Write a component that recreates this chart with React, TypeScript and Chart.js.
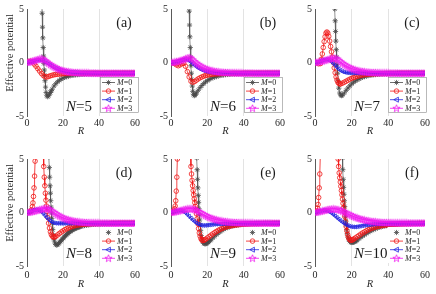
import React, { useEffect, useRef } from "react";
import { Chart, registerables } from "chart.js";
Chart.register(...registerables);

const X_MIN = 0;
const X_MAX = 60;
const X_STEP = 20;
const Y_MIN = -5;
const Y_MAX = 5;
const Y_STEP = 5;
const GRID_R = [20, 40];
const M_VALUES = ["0", "1", "2", "3"];
const PANEL_TAGS = ["(a)", "(b)", "(c)", "(d)", "(e)", "(f)"];
const PANEL_N = ["5", "6", "7", "8", "9", "10"];
const Y_TITLE = "Effective potential";
const X_TITLE = "R";

const G = [0,1,2,3,4,5,6,7,8,9,10,11,12,13,14,15,16,17,18,19,20,21,22,23,24,25,26,27,28,29,30,31,32,33,34,35,36,37,38,39,40,41,42,43,44,45,46,47,48,49,50,51,52,53,54,55,56,57,58,59,60];

// ---------- (a) N=5 ----------
const A_M0_R = [8,8.2,8.4,8.6,8.8,9,9.2,9.4,9.6,9.8,10,10.3,10.6,11,11.5,12,12.5,13,13.5,14,15,16,17,18,19,20,21,22,23,24,25,26,27,28,29,30,31,32,33,34,35,36,37,38,39,40,41,42,43,44,45,46,47,48,49,50,51,52,53,54,55,56,57,58,59,60];
const A_M0_V = [9,6.5,4.6,3.3,2.3,1.4,0.6,-0.1,-0.7,-1.2,-1.7,-2.3,-2.8,-3.1,-3.2,-3.1,-2.95,-2.8,-2.65,-2.5,-2.2,-1.98,-1.8,-1.66,-1.55,-1.46,-1.39,-1.33,-1.28,-1.24,-1.21,-1.18,-1.16,-1.14,-1.12,-1.11,-1.1,-1.09,-1.08,-1.07,-1.07,-1.06,-1.06,-1.05,-1.05,-1.04,-1.04,-1.04,-1.03,-1.03,-1.03,-1.03,-1.02,-1.02,-1.02,-1.02,-1.02,-1.02,-1.01,-1.01,-1.01,-1.01,-1.01,-1.01,-1.01,-1.01];
const A_M1_V = [0,0.1,0.12,0.05,-0.15,-0.35,-0.58,-0.8,-1.02,-1.2,-1.33,-1.36,-1.3,-1.24,-1.19,-1.15,-1.12,-1.1,-1.08,-1.06,-1.05,-1.04,-1.03,-1.03,-1.02,-1.02,-1.01,-1.01,-1.01,-1.01,-1.01,-1,-1,-1,-1,-1,-1,-1,-1,-1,-1,-1,-1,-1,-1,-1,-1,-1,-1,-1,-1,-1,-1,-1,-1,-1,-1,-1,-1,-1,-1];
const A_M2_V = [0,0.02,0.06,0.1,0.15,0.19,0.23,0.25,0.24,0.18,0.09,-0.02,-0.13,-0.24,-0.35,-0.45,-0.54,-0.61,-0.68,-0.73,-0.78,-0.82,-0.85,-0.88,-0.9,-0.92,-0.93,-0.94,-0.95,-0.96,-0.97,-0.97,-0.98,-0.98,-0.98,-0.99,-0.99,-0.99,-0.99,-1,-1,-1,-1,-1,-1,-1,-1,-1,-1,-1,-1,-1,-1,-1,-1,-1,-1,-1,-1,-1,-1];
const A_M3_V = [0,0.03,0.08,0.13,0.18,0.23,0.28,0.33,0.35,0.3,0.18,0.05,-0.08,-0.2,-0.31,-0.41,-0.5,-0.58,-0.65,-0.71,-0.76,-0.8,-0.84,-0.87,-0.89,-0.91,-0.93,-0.94,-0.95,-0.96,-0.97,-0.97,-0.98,-0.98,-0.98,-0.99,-0.99,-0.99,-0.99,-1,-1,-1,-1,-1,-1,-1,-1,-1,-1,-1,-1,-1,-1,-1,-1,-1,-1,-1,-1,-1,-1];

// ---------- (b) N=6 ----------
const B_M0_R = [9.6,9.8,10,10.2,10.4,10.6,10.8,11,11.2,11.4,11.7,12,12.4,12.8,13.2,13.6,14,15,16,17,18,19,20,21,22,23,24,25,26,27,28,29,30,31,32,33,34,35,36,37,38,39,40,41,42,43,44,45,46,47,48,49,50,51,52,53,54,55,56,57,58,59,60];
const B_M0_V = [8,6.2,4.8,3.5,2.4,1.4,0.5,-0.3,-1,-1.6,-2.2,-2.7,-3,-3.1,-3.05,-2.95,-2.85,-2.6,-2.35,-2.15,-1.97,-1.82,-1.7,-1.59,-1.5,-1.42,-1.36,-1.31,-1.26,-1.22,-1.19,-1.16,-1.14,-1.12,-1.1,-1.09,-1.08,-1.07,-1.06,-1.06,-1.05,-1.05,-1.04,-1.04,-1.04,-1.03,-1.03,-1.03,-1.03,-1.02,-1.02,-1.02,-1.02,-1.02,-1.02,-1.01,-1.01,-1.01,-1.01,-1.01,-1.01,-1.01,-1.01];
const B_M1_V = [0,-0.02,-0.1,-0.22,-0.3,-0.22,-0.1,-0.08,-0.35,-0.85,-1.35,-1.75,-1.85,-1.78,-1.65,-1.53,-1.43,-1.35,-1.28,-1.22,-1.18,-1.14,-1.11,-1.09,-1.07,-1.06,-1.05,-1.04,-1.03,-1.03,-1.02,-1.02,-1.02,-1.02,-1.01,-1.01,-1.01,-1.01,-1.01,-1.01,-1,-1,-1,-1,-1,-1,-1,-1,-1,-1,-1,-1,-1,-1,-1,-1,-1,-1,-1,-1,-1];
const B_M2_V = [0,0.02,0.05,0.09,0.14,0.19,0.24,0.28,0.3,0.27,0.18,0.05,-0.1,-0.25,-0.38,-0.5,-0.6,-0.68,-0.75,-0.8,-0.84,-0.87,-0.9,-0.92,-0.94,-0.95,-0.96,-0.97,-0.97,-0.98,-0.98,-0.98,-0.99,-0.99,-0.99,-0.99,-1,-1,-1,-1,-1,-1,-1,-1,-1,-1,-1,-1,-1,-1,-1,-1,-1,-1,-1,-1,-1,-1,-1,-1,-1];
const B_M3_V = [0,0.02,0.05,0.08,0.12,0.17,0.22,0.28,0.35,0.42,0.45,0.4,0.25,0.08,-0.07,-0.2,-0.32,-0.42,-0.51,-0.58,-0.64,-0.7,-0.74,-0.78,-0.82,-0.85,-0.87,-0.89,-0.91,-0.92,-0.93,-0.94,-0.95,-0.96,-0.96,-0.97,-0.97,-0.98,-0.98,-0.98,-0.99,-0.99,-0.99,-0.99,-0.99,-0.99,-1,-1,-1,-1,-1,-1,-1,-1,-1,-1,-1,-1,-1,-1,-1];

// ---------- (c) N=7 ----------
const C_M0_R = [10.4,10.6,10.8,11,11.2,11.4,11.6,11.8,12,12.3,12.6,13,13.5,14,14.5,15,16,17,18,19,20,21,22,23,24,25,26,27,28,29,30,31,32,33,34,35,36,37,38,39,40,41,42,43,44,45,46,47,48,49,50,51,52,53,54,55,56,57,58,59,60];
const C_M0_V = [8,6.3,5,3.9,2.9,2,1.2,0.5,-0.2,-1,-1.7,-2.4,-2.85,-3.05,-3.1,-3.05,-2.85,-2.6,-2.38,-2.18,-2,-1.85,-1.73,-1.62,-1.53,-1.45,-1.38,-1.32,-1.27,-1.23,-1.2,-1.17,-1.15,-1.13,-1.11,-1.1,-1.08,-1.07,-1.06,-1.06,-1.05,-1.05,-1.04,-1.04,-1.04,-1.03,-1.03,-1.03,-1.03,-1.02,-1.02,-1.02,-1.02,-1.02,-1.02,-1.01,-1.01,-1.01,-1.01,-1.01,-1.01];
const C_M1_R = [0,1,2,3,3.5,4,4.5,5,5.5,6,6.5,7,7.5,8,8.5,9,9.5,10,10.5,11,11.5,12,12.5,13,13.5,14,15,16,17,18,19,20,21,22,23,24,25,26,27,28,29,30,31,32,33,34,35,36,37,38,39,40,41,42,43,44,45,46,47,48,49,50,51,52,53,54,55,56,57,58,59,60];
const C_M1_V = [0,-0.03,-0.12,-0.1,0.3,0.8,1.4,1.95,2.4,2.75,2.85,2.75,2.45,2,1.5,1,0.5,0,-0.5,-0.95,-1.35,-1.65,-1.85,-1.95,-2,-2,-1.93,-1.84,-1.75,-1.65,-1.56,-1.48,-1.41,-1.35,-1.29,-1.24,-1.2,-1.17,-1.14,-1.12,-1.1,-1.08,-1.07,-1.06,-1.05,-1.04,-1.04,-1.03,-1.03,-1.02,-1.02,-1.02,-1.01,-1.01,-1.01,-1.01,-1.01,-1,-1,-1,-1,-1,-1,-1,-1,-1,-1,-1,-1,-1,-1,-1];
const C_M2_V = [0,0.03,0.08,0.14,0.2,0.25,0.28,0.27,0.2,0.08,-0.08,-0.26,-0.44,-0.6,-0.74,-0.84,-0.9,-0.94,-0.96,-0.97,-0.98,-0.98,-0.98,-0.99,-0.99,-0.99,-0.99,-0.99,-1,-1,-1,-1,-1,-1,-1,-1,-1,-1,-1,-1,-1,-1,-1,-1,-1,-1,-1,-1,-1,-1,-1,-1,-1,-1,-1,-1,-1,-1,-1,-1,-1];
const C_M3_V = [0,0.02,0.05,0.09,0.13,0.18,0.23,0.28,0.33,0.37,0.4,0.4,0.33,0.2,0.06,-0.08,-0.2,-0.31,-0.41,-0.5,-0.57,-0.63,-0.69,-0.74,-0.78,-0.81,-0.84,-0.87,-0.89,-0.9,-0.92,-0.93,-0.94,-0.95,-0.96,-0.96,-0.97,-0.97,-0.98,-0.98,-0.98,-0.99,-0.99,-0.99,-0.99,-0.99,-1,-1,-1,-1,-1,-1,-1,-1,-1,-1,-1,-1,-1,-1,-1];

// ---------- (d) N=8 ----------
const D_M0_R = [11.8,12,12.2,12.4,12.6,12.8,13,13.2,13.4,13.6,13.8,14,14.3,14.6,15,15.5,16,16.5,17,17.5,18,18.5,19,19.5,20,20.5,21,21.5,22,22.5,23,23.5,24,24.5,25,25.5,26,26.5,27,27.5,28,28.5,29,29.5,30,31,32,33,34,35,36,37,38,39,40,41,42,43,44,45,46,47,48,49,50,51,52,53,54,55,56,57,58,59,60];
const D_M0_V = [8,6.5,5.2,4.2,3.3,2.5,1.8,1.1,0.5,-0.05,-0.55,-1,-1.6,-2.1,-2.55,-2.85,-3,-3.05,-3,-2.92,-2.82,-2.72,-2.62,-2.52,-2.42,-2.32,-2.23,-2.14,-2.06,-1.98,-1.91,-1.84,-1.78,-1.72,-1.66,-1.61,-1.56,-1.52,-1.48,-1.44,-1.41,-1.38,-1.35,-1.32,-1.3,-1.26,-1.22,-1.19,-1.16,-1.14,-1.12,-1.11,-1.1,-1.09,-1.08,-1.07,-1.06,-1.06,-1.05,-1.05,-1.04,-1.04,-1.03,-1.03,-1.03,-1.02,-1.02,-1.02,-1.02,-1.02,-1.01,-1.01,-1.01,-1.01,-1.01];
const D_M1_R = [0,1,2,2.5,3,3.3,3.6,3.9,4.2,4.5,4.8,6.5,8.5,9,9.3,9.6,9.9,10.2,10.5,10.8,11.1,11.5,12,12.5,13,13.5,14,14.5,15,15.5,16,17,18,19,20,21,22,23,24,25,26,27,28,29,30,31,32,33,34,35,36,37,38,39,40,41,42,43,44,45,46,47,48,49,50,51,52,53,54,55,56,57,58,59,60];
const D_M1_V = [0,0.02,0.1,0.25,0.55,0.9,1.5,2.3,3.4,4.8,6.5,20,8,5.5,4.3,3.3,2.5,1.8,1.15,0.6,0.1,-0.45,-1,-1.45,-1.8,-2.05,-2.2,-2.28,-2.3,-2.28,-2.23,-2.1,-1.96,-1.83,-1.72,-1.61,-1.52,-1.44,-1.37,-1.31,-1.26,-1.22,-1.18,-1.15,-1.13,-1.11,-1.09,-1.08,-1.07,-1.06,-1.05,-1.04,-1.04,-1.03,-1.03,-1.02,-1.02,-1.02,-1.02,-1.02,-1.01,-1.01,-1.01,-1.01,-1.01,-1,-1,-1,-1,-1,-1,-1,-1,-1,-1];
const D_M2_V = [0,0.04,0.1,0.17,0.23,0.27,0.26,0.2,0.08,-0.08,-0.27,-0.46,-0.64,-0.79,-0.9,-0.97,-1,-1.01,-1.01,-1.01,-1.01,-1.01,-1.01,-1.01,-1.01,-1,-1,-1,-1,-1,-1,-1,-1,-1,-1,-1,-1,-1,-1,-1,-1,-1,-1,-1,-1,-1,-1,-1,-1,-1,-1,-1,-1,-1,-1,-1,-1,-1,-1,-1,-1];
const D_M3_V = [0,0.02,0.05,0.09,0.13,0.17,0.21,0.26,0.3,0.34,0.37,0.37,0.33,0.24,0.12,0,-0.12,-0.23,-0.33,-0.42,-0.5,-0.57,-0.63,-0.68,-0.73,-0.77,-0.8,-0.83,-0.86,-0.88,-0.9,-0.91,-0.93,-0.94,-0.95,-0.96,-0.96,-0.97,-0.97,-0.98,-0.98,-0.99,-0.99,-0.99,-0.99,-0.99,-1,-1,-1,-1,-1,-1,-1,-1,-1,-1,-1,-1,-1,-1,-1];

// ---------- (e) N=9 ----------
const E_M0_R = [13.8,14,14.2,14.4,14.6,14.8,15,15.2,15.4,15.6,15.8,16,16.3,16.6,17,17.5,18,18.5,19,19.5,20,20.5,21,21.5,22,23,24,25,26,27,28,29,30,31,32,33,34,35,36,37,38,39,40,41,42,43,44,45,46,47,48,49,50,51,52,53,54,55,56,57,58,59,60];
const E_M0_V = [8,6.4,5.1,4,3.1,2.3,1.6,0.95,0.35,-0.2,-0.7,-1.15,-1.7,-2.15,-2.5,-2.75,-2.88,-2.92,-2.92,-2.9,-2.85,-2.78,-2.7,-2.62,-2.54,-2.38,-2.22,-2.07,-1.93,-1.8,-1.68,-1.57,-1.48,-1.41,-1.35,-1.3,-1.26,-1.22,-1.19,-1.16,-1.14,-1.12,-1.1,-1.09,-1.08,-1.07,-1.06,-1.05,-1.05,-1.04,-1.04,-1.03,-1.03,-1.02,-1.02,-1.02,-1.02,-1.02,-1.01,-1.01,-1.01,-1.01,-1.01];
const E_M1_R = [0,0.5,1,1.5,2,2.3,2.6,2.9,3.2,3.5,3.8,7,10.3,10.7,11,11.3,11.6,11.9,12.2,12.5,12.8,13.1,13.4,13.7,14,14.4,14.8,15.2,15.6,16,16.5,17,17.5,18,18.5,19,20,21,22,23,24,25,26,27,28,29,30,31,32,33,34,35,36,37,38,39,40,41,42,43,44,45,46,47,48,49,50,51,52,53,54,55,56,57,58,59,60];
const E_M1_V = [0,0.02,0.06,0.15,0.35,0.6,1.1,2,3.3,5,7,30,8,5.5,4.3,3.6,3,2.5,2.05,1.65,1.28,0.92,0.57,0.22,-0.12,-0.6,-1.05,-1.5,-1.9,-2.2,-2.45,-2.58,-2.62,-2.6,-2.55,-2.5,-2.38,-2.25,-2.12,-2,-1.88,-1.77,-1.67,-1.58,-1.5,-1.43,-1.37,-1.32,-1.28,-1.24,-1.21,-1.18,-1.16,-1.14,-1.12,-1.1,-1.09,-1.08,-1.07,-1.06,-1.05,-1.05,-1.04,-1.04,-1.03,-1.03,-1.03,-1.02,-1.02,-1.02,-1.02,-1.02,-1.01,-1.01,-1.01,-1.01,-1.01];
const E_M2_V = [0,0.04,0.09,0.14,0.18,0.2,0.17,0.09,-0.03,-0.18,-0.35,-0.52,-0.69,-0.84,-0.97,-1.08,-1.16,-1.2,-1.21,-1.2,-1.18,-1.16,-1.14,-1.12,-1.1,-1.09,-1.08,-1.07,-1.06,-1.05,-1.05,-1.04,-1.04,-1.03,-1.03,-1.03,-1.02,-1.02,-1.02,-1.02,-1.01,-1.01,-1.01,-1.01,-1.01,-1.01,-1,-1,-1,-1,-1,-1,-1,-1,-1,-1,-1,-1,-1,-1,-1];
const E_M3_V = [0,0.03,0.06,0.1,0.14,0.18,0.22,0.26,0.3,0.33,0.35,0.35,0.33,0.28,0.2,0.1,0,-0.1,-0.2,-0.29,-0.37,-0.45,-0.52,-0.58,-0.63,-0.68,-0.72,-0.76,-0.79,-0.82,-0.85,-0.87,-0.89,-0.9,-0.92,-0.93,-0.94,-0.95,-0.96,-0.96,-0.97,-0.97,-0.98,-0.98,-0.98,-0.98,-0.99,-0.99,-0.99,-0.99,-0.99,-0.99,-0.99,-0.99,-0.99,-0.99,-1,-1,-1,-1,-1];

// ---------- (f) N=10 ----------
const F_M0_R = [14.6,14.8,15,15.2,15.4,15.6,15.8,16,16.2,16.4,16.6,16.8,17,17.3,17.6,18,18.5,19,19.5,20,20.5,21,21.5,22,22.5,23,24,25,26,27,28,29,30,31,32,33,34,35,36,37,38,39,40,41,42,43,44,45,46,47,48,49,50,51,52,53,54,55,56,57,58,59,60];
const F_M0_V = [8,6.4,5.1,4,3.1,2.35,1.7,1.1,0.55,0.05,-0.4,-0.8,-1.15,-1.6,-1.95,-2.3,-2.55,-2.7,-2.78,-2.8,-2.8,-2.78,-2.74,-2.7,-2.64,-2.58,-2.45,-2.32,-2.2,-2.08,-1.97,-1.86,-1.76,-1.67,-1.59,-1.52,-1.45,-1.39,-1.34,-1.3,-1.26,-1.23,-1.2,-1.17,-1.15,-1.13,-1.11,-1.1,-1.08,-1.07,-1.06,-1.05,-1.05,-1.04,-1.04,-1.03,-1.03,-1.03,-1.02,-1.02,-1.02,-1.02,-1.01];
const F_M1_R = [0,0.5,1,1.4,1.7,2,2.3,2.6,2.9,3.2,7,12.2,12.6,12.9,13.2,13.5,13.8,14.1,14.4,14.7,15,15.3,15.6,15.9,16.2,16.6,17,17.4,17.8,18.2,18.7,19.2,19.7,20.2,20.7,21.2,22,23,24,25,26,27,28,29,30,31,32,33,34,35,36,37,38,39,40,41,42,43,44,45,46,47,48,49,50,51,52,53,54,55,56,57,58,59,60];
const F_M1_V = [0,0.05,0.15,0.4,0.75,1.4,2.3,3.6,5.3,7.5,40,7,5,4.3,3.7,3.25,2.85,2.45,2.05,1.65,1.25,0.85,0.45,0.05,-0.35,-0.85,-1.3,-1.7,-2.05,-2.3,-2.48,-2.57,-2.6,-2.58,-2.53,-2.47,-2.38,-2.26,-2.14,-2.02,-1.91,-1.81,-1.71,-1.62,-1.54,-1.47,-1.41,-1.36,-1.31,-1.27,-1.24,-1.21,-1.18,-1.16,-1.14,-1.12,-1.11,-1.1,-1.09,-1.08,-1.07,-1.06,-1.06,-1.05,-1.05,-1.04,-1.04,-1.03,-1.03,-1.03,-1.02,-1.02,-1.02,-1.02,-1.01];
const F_M2_V = [0,0.04,0.09,0.14,0.18,0.2,0.19,0.14,0.06,-0.05,-0.18,-0.32,-0.47,-0.62,-0.76,-0.9,-1.02,-1.13,-1.22,-1.29,-1.33,-1.35,-1.35,-1.33,-1.3,-1.27,-1.24,-1.21,-1.18,-1.16,-1.14,-1.12,-1.1,-1.09,-1.08,-1.07,-1.06,-1.05,-1.05,-1.04,-1.04,-1.03,-1.03,-1.03,-1.03,-1.03,-1.02,-1.02,-1.02,-1.02,-1.02,-1.01,-1.01,-1.01,-1.01,-1.01,-1.01,-1.01,-1.01,-1.01,-1.01];
const F_M3_V = [0,0.03,0.07,0.11,0.15,0.19,0.23,0.27,0.3,0.32,0.33,0.32,0.29,0.25,0.19,0.12,0.04,-0.05,-0.14,-0.22,-0.3,-0.37,-0.44,-0.5,-0.56,-0.61,-0.66,-0.7,-0.74,-0.77,-0.8,-0.83,-0.85,-0.87,-0.89,-0.9,-0.92,-0.93,-0.94,-0.95,-0.95,-0.96,-0.96,-0.97,-0.97,-0.97,-0.98,-0.98,-0.98,-0.98,-0.98,-0.99,-0.99,-0.99,-0.99,-0.99,-0.99,-0.99,-0.99,-0.99,-0.99];

const PANEL_SERIES: [number[], number[]][][] = [
  [[A_M0_R, A_M0_V], [G, A_M1_V], [G, A_M2_V], [G, A_M3_V]],
  [[B_M0_R, B_M0_V], [G, B_M1_V], [G, B_M2_V], [G, B_M3_V]],
  [[C_M0_R, C_M0_V], [C_M1_R, C_M1_V], [G, C_M2_V], [G, C_M3_V]],
  [[D_M0_R, D_M0_V], [D_M1_R, D_M1_V], [G, D_M2_V], [G, D_M3_V]],
  [[E_M0_R, E_M0_V], [E_M1_R, E_M1_V], [G, E_M2_V], [G, E_M3_V]],
  [[F_M0_R, F_M0_V], [F_M1_R, F_M1_V], [G, F_M2_V], [G, F_M3_V]],
];

const COLORS = ["#4a4a4a", "#f01818", "#2222e0", "#f018f0"];
const FONT = '"Liberation Serif", "Times New Roman", serif';
const TEXT = "#262626";

function pts(R: number[], V: number[]) {
  return V.map((v, i) => ({ x: R[i], y: v })).filter((p) => p.x !== undefined);
}

function makePentagram(color: string) {
  const c = document.createElement("canvas");
  c.width = 9;
  c.height = 9;
  const ctx = c.getContext("2d")!;
  ctx.strokeStyle = color;
  ctx.lineWidth = 0.8;
  ctx.beginPath();
  for (let i = 0; i < 10; i++) {
    const r = i % 2 === 0 ? 3.8 : 1.6;
    const a = -Math.PI / 2 + (i * Math.PI) / 5;
    const x = 4.5 + r * Math.cos(a);
    const y = 4.7 + r * Math.sin(a);
    if (i === 0) ctx.moveTo(x, y);
    else ctx.lineTo(x, y);
  }
  ctx.closePath();
  ctx.stroke();
  return c;
}

function drawMarker(ctx: CanvasRenderingContext2D, m: number, x: number, y: number, star: HTMLCanvasElement) {
  ctx.save();
  ctx.strokeStyle = COLORS[m];
  ctx.lineWidth = 0.8;
  ctx.beginPath();
  if (m === 0) {
    const r = 2.6;
    const d = r * 0.707;
    ctx.moveTo(x - r, y); ctx.lineTo(x + r, y);
    ctx.moveTo(x, y - r); ctx.lineTo(x, y + r);
    ctx.moveTo(x - d, y - d); ctx.lineTo(x + d, y + d);
    ctx.moveTo(x - d, y + d); ctx.lineTo(x + d, y - d);
    ctx.stroke();
  } else if (m === 1) {
    ctx.arc(x, y, 2.3, 0, Math.PI * 2);
    ctx.stroke();
  } else if (m === 2) {
    ctx.moveTo(x - 2.7, y); ctx.lineTo(x + 1.9, y - 2.5); ctx.lineTo(x + 1.9, y + 2.5);
    ctx.closePath();
    ctx.stroke();
  } else {
    ctx.drawImage(star, x - star.width / 2, y - star.height / 2);
  }
  ctx.restore();
}

type PanelProps = { idx: number; plotLeft: number; plotTop: number; plotW: number };

function Panel({ idx, plotLeft, plotTop, plotW }: PanelProps) {
  const ref = useRef<HTMLCanvasElement>(null);
  const plotH = 108;
  const yAxisW = 27;
  const xAxisH = 26;
  const padTop = 8;
  const padRight = 11;
  const W = yAxisW + plotW + padRight;
  const H = padTop + plotH + xAxisH;

  useEffect(() => {
    const canvas = ref.current;
    if (!canvas) return;
    const row2 = idx >= 3;
    const star = makePentagram(COLORS[3]);
    const datasets = PANEL_SERIES[idx].map(([R, V], m) => ({
      label: "M=" + M_VALUES[m],
      data: pts(R, V),
      showLine: true,
      borderColor: COLORS[m],
      borderWidth: m === 0 ? 0.6 : 0.8,
      pointStyle: m === 0 ? "star" : m === 1 ? "circle" : m === 2 ? "triangle" : star,
      rotation: m === 2 ? -90 : 0,
      pointRadius: m === 0 ? 2.6 : 2.3,
      pointBorderColor: COLORS[m],
      pointBackgroundColor: "rgba(0,0,0,0)",
      pointBorderWidth: 0.8,
      order: 3 - m,
      tension: 0,
    }));

    const deco = {
      id: "deco",
      afterDraw(chart: any) {
        const ctx: CanvasRenderingContext2D = chart.ctx;
        const ca = chart.chartArea;
        ctx.save();
        ctx.fillStyle = "#1a1a1a";
        ctx.textBaseline = "middle";
        // panel tag
        ctx.font = `14px ${FONT}`;
        ctx.textAlign = "center";
        ctx.fillText(PANEL_TAGS[idx], ca.left + 97, ca.top + 14);
        // N label
        ctx.textAlign = "left";
        const nx = ca.left + 39;
        const ny = ca.top + (row2 ? 95 : 98);
        ctx.font = `italic 15px ${FONT}`;
        ctx.fillText("N", nx, ny);
        const nw = ctx.measureText("N").width;
        ctx.font = `15px ${FONT}`;
        ctx.fillText("=" + PANEL_N[idx], nx + nw, ny);
        // legend
        const lx = ca.left + 73;
        const ly = ca.top + 68;
        ctx.fillStyle = "#ffffff";
        ctx.fillRect(lx, ly, 39, 36);
        if (!row2) {
          ctx.strokeStyle = "#8a8a8a";
          ctx.lineWidth = 0.6;
          ctx.strokeRect(lx + 0.5, ly + 0.5, 38, 35);
        }
        for (let m = 0; m < 4; m++) {
          const y = ly + 5.5 + m * 8.6;
          if (!(row2 && m === 0)) {
            ctx.strokeStyle = COLORS[m];
            ctx.lineWidth = 0.8;
            ctx.beginPath();
            ctx.moveTo(lx + 2, y);
            ctx.lineTo(lx + 15, y);
            ctx.stroke();
          }
          drawMarker(ctx, m, lx + 8.5, y, star);
          ctx.fillStyle = TEXT;
          ctx.font = `italic 8px ${FONT}`;
          ctx.fillText("M", lx + 17, y + 0.5);
          const mw = ctx.measureText("M").width;
          ctx.font = `8px ${FONT}`;
          ctx.fillText("=" + M_VALUES[m], lx + 17 + mw, y + 0.5);
        }
        // y title
        if (idx % 3 === 0) {
          ctx.fillStyle = TEXT;
          ctx.translate(10, ca.top + 44);
          ctx.rotate(-Math.PI / 2);
          ctx.textAlign = "center";
          ctx.font = `10.5px ${FONT}`;
          ctx.fillText(Y_TITLE, 0, 0);
        }
        ctx.restore();
      },
    };

    const chart = new Chart(canvas, {
      type: "scatter",
      data: { datasets } as any,
      options: {
        animation: false,
        responsive: false,
        devicePixelRatio: 1,
        events: [],
        layout: { padding: { top: padTop, right: padRight, left: 0, bottom: 0 } },
        plugins: { legend: { display: false }, tooltip: { enabled: false } },
        scales: {
          x: {
            type: "linear",
            min: X_MIN,
            max: X_MAX,
            afterFit: (s: any) => { s.height = xAxisH; },
            ticks: { stepSize: X_STEP, font: { family: FONT, size: 10 }, color: TEXT, padding: row2 ? 3 : 1, maxRotation: 0, autoSkip: false },
            grid: {
              color: (c: any) => (c.tick && GRID_R.includes(c.tick.value) ? "#dcdcdc" : "rgba(0,0,0,0)"),
              lineWidth: 0.8,
              drawTicks: false,
            },
            border: { display: false },
            title: { display: true, text: X_TITLE, font: { family: FONT, size: 10.5, style: "italic" }, color: TEXT, padding: { top: 0, bottom: row2 ? 1 : 4 } },
          },
          y: {
            min: Y_MIN,
            max: Y_MAX,
            afterFit: (s: any) => { s.width = yAxisW; },
            ticks: { stepSize: Y_STEP, font: { family: FONT, size: 10 }, color: TEXT, padding: 3 },
            grid: { display: false, drawTicks: false },
            border: { display: true, color: "#5a5a5a", width: 1 },
          },
        },
      } as any,
      plugins: [deco],
    });
    return () => chart.destroy();
  }, [idx]);

  return (
    <canvas
      ref={ref}
      width={W}
      height={H}
      style={{ position: "absolute", left: plotLeft - yAxisW, top: plotTop - padTop, width: W, height: H }}
    />
  );
}

export default function App() {
  const cols = [
    { plotLeft: 27, plotW: 108 },
    { plotLeft: 171, plotW: 109 },
    { plotLeft: 315, plotW: 110 },
  ];
  const rows = [8, 158];
  return (
    <div style={{ position: "absolute", left: 0, top: 0, width: 436, height: 294, background: "#ffffff", overflow: "hidden" }}>
      {rows.map((top, r) =>
        cols.map((c, k) => (
          <Panel key={r * 3 + k} idx={r * 3 + k} plotLeft={c.plotLeft} plotTop={top} plotW={c.plotW} />
        ))
      )}
    </div>
  );
}
